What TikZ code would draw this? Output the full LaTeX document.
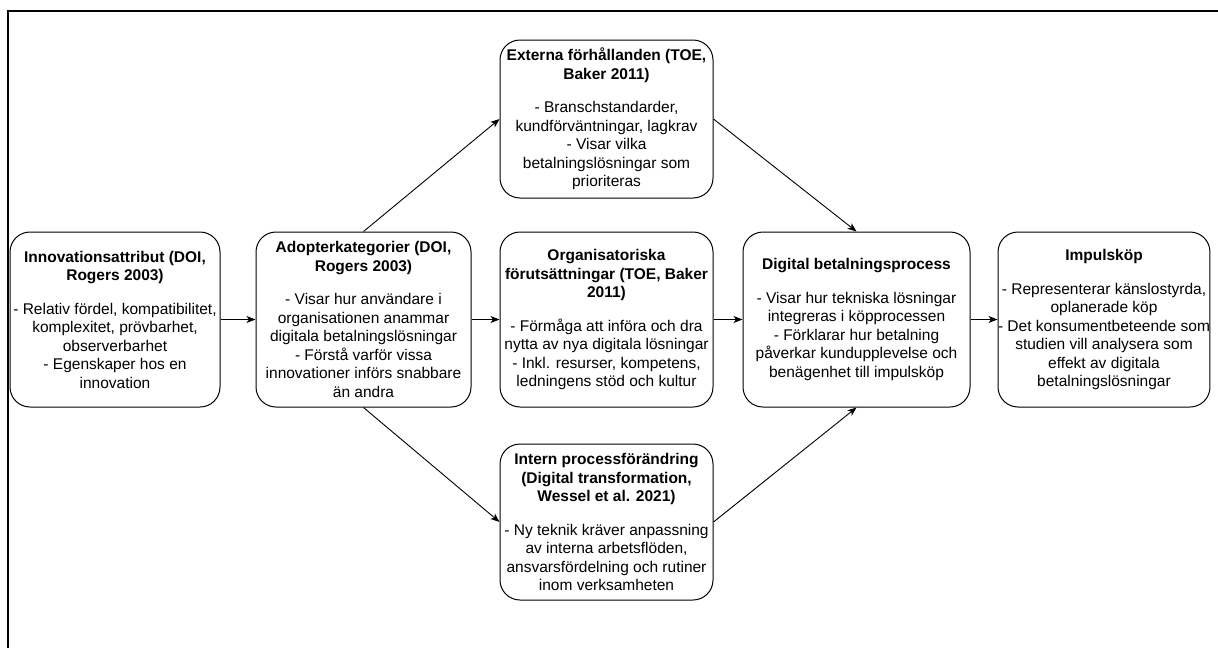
\documentclass[tikz,border=0pt]{standalone}
\usepackage{fontspec}
\setmainfont{Liberation Sans}
\usetikzlibrary{arrows.meta}

\tikzset{
  ruta/.style={draw, line width=1pt, rounded corners=20pt, align=center, inner sep=0pt,
    font=\fontsize{15.5}{18.5}\selectfont},
  pil/.style={line width=0.9pt, -{Stealth[length=9pt,width=7pt,inset=2.5pt]}},
}

\begin{document}
\begin{tikzpicture}[x=1pt,y=-1pt]
    \useasboundingbox (0,0) rectangle (1218,648);

    % 1. RAM (ovre och vanstra kanten)
    \draw[line width=2pt] (6.5,10.5) -- (1218,10.5);
    \draw[line width=2pt] (7.5,10.5) -- (7.5,648);

    % 2. RUTOR
    \node[ruta, minimum width=210pt, minimum height=175pt] (innov) at (115,319.5)
        {\textbf{Innovationsattribut (DOI,}\\\textbf{Rogers 2003)}\\[15pt]
         - Relativ fördel, kompatibilitet,\\komplexitet, prövbarhet,\\observerbarhet\\
         - Egenskaper hos en\\innovation};
    \node[ruta, minimum width=215pt, minimum height=175pt] (adopt) at (363.5,319.5)
        {\textbf{Adopterkategorier (DOI,}\\\textbf{Rogers 2003)}\\[15pt]
         - Visar hur användare i\\organisationen anammar\\digitala betalningslösningar\\
         - Förstå varför vissa\\innovationer införs snabbare\\än andra};
    \node[ruta, minimum width=213pt, minimum height=158pt] (extern) at (606.5,119)
        {\textbf{Externa förhållanden (TOE,}\\\textbf{Baker 2011)}\\[15pt]
         - Branschstandarder,\\kundförväntningar, lagkrav\\
         - Visar vilka\\betalningslösningar som\\prioriteras};
    \node[ruta, minimum width=213pt, minimum height=175pt] (org) at (606.5,319.5)
        {\textbf{Organisatoriska}\\\textbf{förutsättningar (TOE, Baker}\\\textbf{2011)}\\[15pt]
         - Förmåga att införa och dra\\nytta av nya digitala lösningar\\
         - Inkl. resurser, kompetens,\\ledningens stöd och kultur};
    \node[ruta, minimum width=213pt, minimum height=156pt] (intern) at (606.5,522)
        {\textbf{Intern processförändring}\\\textbf{(Digital transformation,}\\\textbf{Wessel et al. 2021)}\\[15pt]
         - Ny teknik kräver anpassning\\av interna arbetsflöden,\\ansvarsfördelning och rutiner\\inom verksamheten};
    \node[ruta, minimum width=227pt, minimum height=175pt] (digital) at (856.5,319.5)
        {\textbf{Digital betalningsprocess}\\[15pt]
         - Visar hur tekniska lösningar\\integreras i köpprocessen\\
         - Förklarar hur betalning\\påverkar kundupplevelse och\\benägenhet till impulsköp};
    \node[ruta, minimum width=208pt, minimum height=175pt] (impuls) at (1104,319.5)
        {\textbf{Impulsköp}\\[15pt]
         - Representerar känslostyrda,\\oplanerade köp\\
         - Det konsumentbeteende som\\studien vill analysera som\\effekt av digitala\\betalningslösningar};

    % 3. PILAR
    \draw[pil] (innov.east) -- (adopt.west);
    \draw[pil] (adopt.east) -- (org.west);
    \draw[pil] (adopt.north) -- (extern.west);
    \draw[pil] (adopt.south) -- (intern.west);
    \draw[pil] (org.east) -- (digital.west);
    \draw[pil] (extern.east) -- (digital.north);
    \draw[pil] (intern.east) -- (digital.south);
    \draw[pil] (digital.east) -- (impuls.west);

\end{tikzpicture}
\end{document}
